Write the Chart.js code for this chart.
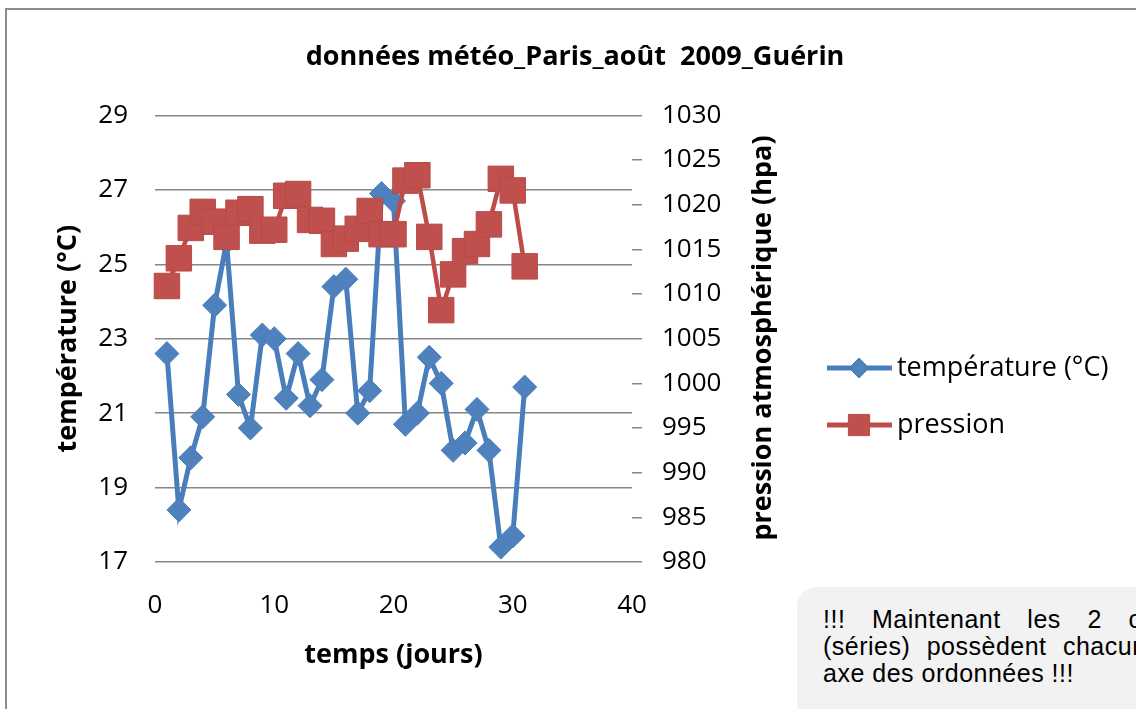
<!DOCTYPE html>
<html lang="fr">
<head>
<meta charset="utf-8">
<title>données météo Paris août 2009</title>
<script src="https://cdn.jsdelivr.net/npm/chart.js@4.4.1/dist/chart.umd.min.js"></script>
<style>
    html, body { margin: 0; padding: 0; background: #fff; overflow: hidden; }
    #wrap { position: relative; width: 1136px; height: 709px; overflow: hidden; }
    #cadre { position: absolute; left: 5px; top: 8px; width: 1300px; height: 900px;
             border-left: 2px solid #8c8c8c; border-top: 2px solid #8c8c8c; }
    #graphe { position: absolute; left: 0; top: 0; }
    #note { position: absolute; left: 797px; top: 587px; width: 520px; height: 200px;
            background: #f2f2f2; border-radius: 20px; box-sizing: border-box;
            padding: 19px 0 0 26px; color: #000; letter-spacing: 0.5px;
            font-family: "Liberation Sans", Arial, sans-serif; font-size: 25px; line-height: 27px; }
    #note .j { width: 398px; text-align: justify; text-align-last: justify; }
</style>
</head>
<body>
<div id="wrap">
    <div id="cadre"></div>
    <canvas id="graphe" width="1136" height="709"></canvas>
    <div id="note">
        <div class="j">!!! Maintenant les 2 courbes</div>
        <div class="j">(séries) possèdent chacune leur</div>
        <div>axe des ordonnées !!!</div>
    </div>
</div>
<script>
// jours du mois d'août 2009
const jours = [1, 2, 3, 4, 5, 6, 7, 8, 9, 10, 11, 12, 13, 14, 15, 16,
    17, 18, 19, 20, 21, 22, 23, 24, 25, 26, 27, 28, 29, 30, 31];
// température (°C)
const temperature = [22.6, 18.4, 19.8, 20.9, 23.9, 25.6, 21.5, 20.6, 23.1, 23.0, 21.4,
    22.6, 21.2, 21.9, 24.4, 24.6, 21.0, 21.6, 26.9, 26.7, 20.7, 21.0, 22.5, 21.8, 20.0,
    20.2, 21.1, 20.0, 17.4, 17.7, 21.7];
// pression atmosphérique (hpa)
const pression = [1010.9, 1014.0, 1017.4, 1019.2, 1018.1, 1016.4, 1019.1, 1019.5, 1017.1,
    1017.2, 1021.0, 1021.2, 1018.3, 1018.2, 1015.6, 1016.2, 1017.3, 1019.3, 1016.7, 1016.7,
    1022.7, 1023.3, 1016.4, 1008.2, 1012.2, 1014.8, 1015.6, 1017.8, 1022.9, 1021.6, 1013.1];

const police = '"Open Sans", "DejaVu Sans", sans-serif';
const gris = '#868686';

// Legend and right axis title drawn by hand (Excel style)
const legendePlugin = {
    id: 'legende',
    afterDraw(chart) {
        const ctx = chart.ctx;
        ctx.save();
        chart.data.datasets.forEach((ds, i) => {
            const y = 368 + i * 57;
            ctx.strokeStyle = ds.borderColor;
            ctx.lineWidth = 5;
            ctx.beginPath();
            ctx.moveTo(827, y);
            ctx.lineTo(892, y);
            ctx.stroke();
            ctx.fillStyle = ds.backgroundColor;
            ctx.lineWidth = 1;
            Chart.helpers.drawPoint(ctx, {
                pointStyle: ds.pointStyle,
                radius: ds.pointStyle === 'rect' ? 15 : 10,
                borderWidth: 1,
                rotation: 0
            }, 859, y);
            ctx.fillStyle = '#000';
            ctx.font = '27px ' + police;
            ctx.textAlign = 'left';
            ctx.textBaseline = 'middle';
            ctx.fillText(ds.label, 897, y);
        });
        // titre de l'axe de droite
        ctx.translate(763, 338);
        ctx.rotate(-Math.PI / 2);
        ctx.font = 'bold 27px ' + police;
        ctx.textAlign = 'center';
        ctx.textBaseline = 'middle';
        ctx.fillStyle = '#000';
        ctx.fillText('pression atmosphérique (hpa)', 0, 0);
        ctx.restore();
    }
};

document.addEventListener('DOMContentLoaded', () => {
    const graphe = document.getElementById('graphe');
    new Chart(graphe, {
        type: 'line',
        data: {
            datasets: [{
                label: 'température (°C)',
                data: jours.map((j, i) => ({ x: j, y: temperature[i] })),
                yAxisID: 'yT',
                borderColor: '#4A7EBB',
                backgroundColor: '#4F81BD',
                borderWidth: 5,
                pointStyle: 'rectRot',
                pointRadius: 12,
                pointBorderWidth: 1,
                pointBorderColor: '#4A7EBB',
                pointBackgroundColor: '#4F81BD',
                tension: 0,
                clip: false,
                order: 1
            }, {
                label: 'pression',
                data: jours.map((j, i) => ({ x: j, y: pression[i] })),
                yAxisID: 'yP',
                borderColor: '#BE4B48',
                backgroundColor: '#C0504D',
                borderWidth: 4.5,
                pointStyle: 'rect',
                pointRadius: 18,
                pointBorderWidth: 1,
                pointBorderColor: '#B84A47',
                pointBackgroundColor: '#C0504D',
                tension: 0,
                clip: false,
                order: 0
            }]
        },
        options: {
            responsive: false,
            animation: false,
            devicePixelRatio: 1,
            layout: { padding: { left: 14, right: 0, top: 0, bottom: 0 } },
            plugins: {
                legend: { display: false },
                tooltip: { enabled: false },
                title: {
                    display: true,
                    text: 'données météo_Paris_août  2009_Guérin',
                    color: '#000',
                    font: { family: police, size: 27, weight: 'bold' },
                    padding: { top: 41, bottom: 42 }
                }
            },
            scales: {
                x: {
                    type: 'linear',
                    min: 0,
                    max: 40,
                    ticks: { stepSize: 10, padding: 28, color: '#000', font: { family: police, size: 26 } },
                    grid: { display: false, drawTicks: false },
                    border: { display: false },
                    title: {
                        display: true,
                        text: 'temps (jours)',
                        color: '#000',
                        font: { family: police, size: 27, weight: 'bold' },
                        padding: { top: 0, bottom: 37 }
                    },
                    afterFit: s => { s.height = 147; }
                },
                yT: {
                    position: 'left',
                    min: 17,
                    max: 29,
                    ticks: { stepSize: 2, padding: 27, color: '#000', font: { family: police, size: 26 } },
                    grid: { color: gris, lineWidth: 1.5, drawTicks: false },
                    border: { display: false },
                    title: {
                        display: true,
                        text: 'température (°C)',
                        color: '#000',
                        font: { family: police, size: 27, weight: 'bold' },
                        padding: { top: 38, bottom: 0 }
                    },
                    afterFit: s => { s.width = 141; }
                },
                yP: {
                    position: 'right',
                    min: 980,
                    max: 1030,
                    ticks: {
                        stepSize: 5, padding: 20, color: '#000',
                        font: { family: police, size: 26 },
                        format: { useGrouping: false }
                    },
                    grid: { drawOnChartArea: false, drawTicks: true, tickLength: 10, color: gris, lineWidth: 1.5 },
                    border: { display: false },
                    afterFit: s => { s.width = 504; }
                }
            }
        },
        plugins: [legendePlugin]
    });
});
</script>
</body>
</html>
